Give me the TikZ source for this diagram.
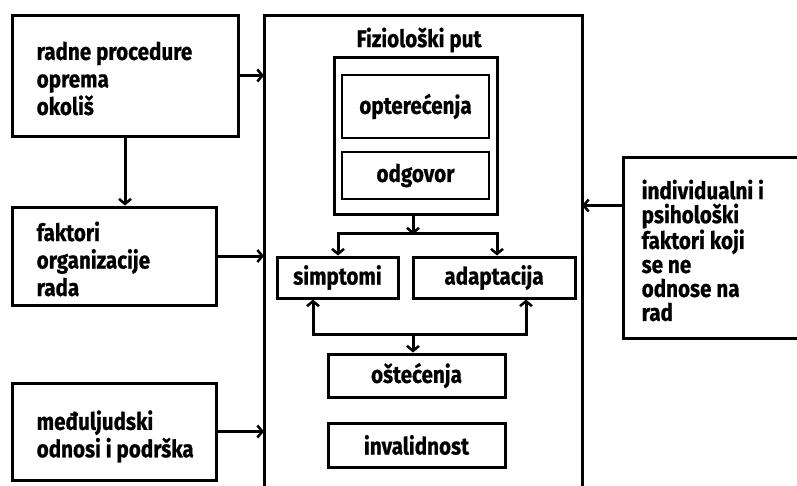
\documentclass[tikz,border=0pt]{standalone}
\usepackage{fontspec}
\setmainfont{Fira Sans}[FakeStretch=0.86, BoldFeatures={FakeBold=0.7}]
\usetikzlibrary{arrows.meta}
\begin{document}
\begin{tikzpicture}[x=1pt,y=-1pt,
  font=\fontsize{24}{27.5}\selectfont\bfseries,
  blk/.style={draw, line width=3pt, inner sep=0pt},
  thin/.style={draw, line width=1.3pt, inner sep=0pt},
  conn/.style={line width=3pt, -{Straight Barb[length=5pt,width=12pt,line width=2.5pt]}},
  plain/.style={line width=3pt},
  lbl/.style={anchor=west, align=left, inner sep=0pt}]
\useasboundingbox (0,0) rectangle (797,485);
% left boxes
\node[blk, minimum width=226pt, minimum height=121pt] (A) at (125,75.5) {};
\node[lbl] (At) at ([xshift=26pt,yshift=-3pt]A.west) {radne procedure\\oprema\\okoliš};
\node[blk, minimum width=204pt, minimum height=98pt] (B) at (114,256) {};
\node[lbl] (Bt) at ([xshift=26pt,yshift=-3pt]B.west) {faktori\\organizacije\\rada};
\node[blk, minimum width=204pt, minimum height=97pt] (C) at (114,431.5) {};
\node[lbl] (Ct) at ([xshift=26pt,yshift=-5pt]C.west) {međuljudski\\odnosi i podrška};
% right box
\node[blk, minimum width=176pt, minimum height=181pt] (D) at (711,247.5) {};
\node[lbl, font=\fontsize{24}{24}\selectfont\bfseries] (Dt) at ([xshift=20pt,yshift=-3pt]D.west) {individualni i\\psihološki\\faktori koji\\se ne\\odnose na\\rad};
% big open box
\coordinate (bigL) at (264,15);
\coordinate (bigR) at (582,15);
\draw[plain] (264,490) -- (bigL) -- (bigR) -- (582,490);
\node (title) at (419,40) {Fiziološki put};
% physiological path
\node[blk, minimum width=163pt, minimum height=157pt] (P) at (415.5,135.5) {};
\node[thin, minimum width=147pt, minimum height=63pt] (opt) at (415.5,106.5) {opterećenja};
\node[thin, minimum width=147pt, minimum height=47pt] (odg) at (415.5,175.5) {odgovor};
\node[blk, minimum width=121pt, minimum height=41pt] (sim) at (337.5,277.5) {simptomi};
\node[blk, minimum width=162pt, minimum height=41pt] (ada) at (494,277.5) {adaptacija};
\node[blk, minimum width=177pt, minimum height=43pt] (ost) at (416.5,375.5) {oštećenja};
\node[blk, minimum width=177pt, minimum height=44pt] (inv) at (416.5,445) {invalidnost};
% junction coordinates
\coordinate (j1) at (413,233);
\coordinate (j1l) at (338,233);
\coordinate (j1r) at (497,233);
\coordinate (j2) at (413,334);
\coordinate (j2l) at (313,334);
\coordinate (j2r) at (526,334);
% connectors
\draw[conn] (A.east) -- (A.east -| bigL);
\draw[conn] (B.east) -- (B.east -| bigL);
\draw[conn] (C.east) -- (C.east -| bigL);
\draw[conn] ([yshift=-50pt]D.north west) -- ([yshift=-50pt]D.north west -| bigR);
\draw[conn] (A.south) -- (A.south |- B.north);
\draw[conn] (P.south -| j1) -- ([yshift=-1.5pt]j1);
\draw[plain] ([xshift=-1.5pt]j1l) -- ([xshift=1.5pt]j1r);
\draw[conn] (j1l) -- (j1l |- sim.north);
\draw[conn] (j1r) -- (j1r |- ada.north);
\draw[plain] ([xshift=-1.5pt]j2l) -- ([xshift=1.5pt]j2r);
\draw[conn] (j2l) -- (j2l |- sim.south);
\draw[conn] (j2r) -- (j2r |- ada.south);
\draw[conn] (j2) -- (j2 |- ost.north);
\end{tikzpicture}
\end{document}
